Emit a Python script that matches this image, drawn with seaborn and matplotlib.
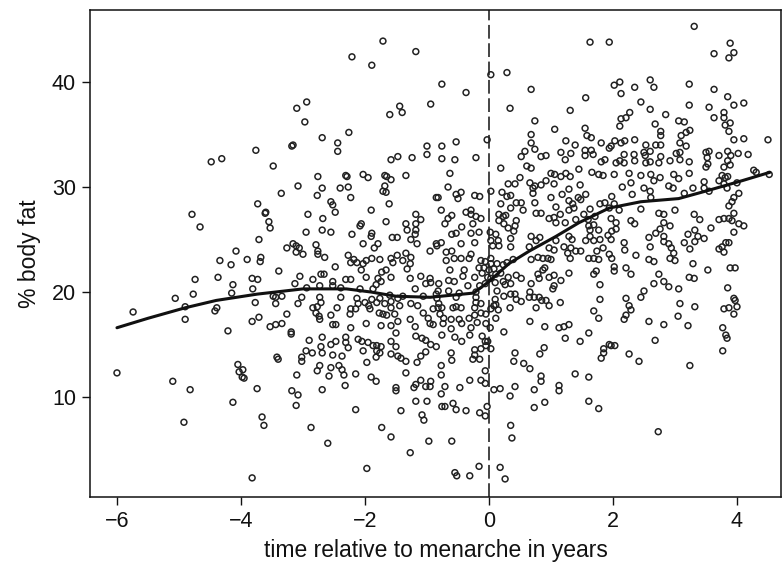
import matplotlib
matplotlib.use("Agg")
import matplotlib.pyplot as plt
import seaborn as sns
import pandas as pd

# time relative to menarche (years)
time_years = [
    -4.48, -4.31, -3.76,
    -1.71, -1.18, -2.21, -1.89, -2.94, -3.10, -2.97, -1.44, -1.40, -1.60, -0.94, -2.26, -2.69, -3.18, -3.16,
    -2.44, -2.44, -1.0, -1.0, -1.58, -1.47, -1.24, -3.48,
    1.63, 1.94, 0.03, 0.29, -0.76, -0.37, 0.68, 1.56, 0.34, 1.31, 0.74, 1.06, 1.55, 0.68, 1.58, 1.65, -0.03,
    -0.76, -0.53, 0.68, 1.24, 1.39, 1.81, 1.55, 1.65, 0.74, 0.58, 0.52, 0.84, 0.92, 1.16, 1.32, 1.23, 1.55,
    1.68, -0.76, -0.55, -0.21, 0.19, 0.61, 0.68, 1.45, 1.81, 1.87, 1.94,
    3.31, 3.89, 3.95, 3.87, 3.63, 2.02, 2.11, 2.35, 2.60, 2.66, 3.23, 2.13, 3.63, 2.45, 2.60, 3.23, 3.55, 3.85,
    3.95, 4.11, 2.85, 3.63, 3.79, 3.79, 2.27, 2.13, 2.21, 2.11, 3.06, 3.15, 2.68, 3.81, 3.89, 3.87, 3.24, 3.18,
    2.77, 2.77, 3.10, 3.95, 4.11, 4.50, 2.03, 2.13, 2.19, 2.35, 2.53, 2.69, 2.77, 3.08, 3.18, 1.97, 2.18, 2.34,
    2.50, 2.60, 2.52, 2.77, 3.02, 3.08, 3.08, 2.92, 3.50, 3.55, 3.52, 3.71, 3.85, 3.90, 4.02, 4.18, 3.85, 2.05,
    2.11, 2.18, 2.35, 2.53, 2.60, 2.74, 3.23, 3.53, 3.50, 3.79, 3.89, 4.27,
    -3.73, -3.61, -4.79, -4.66, -3.71, -4.08, -4.34, -4.16, -3.90, -3.68, -3.69, -4.74, -4.37, -4.13, -3.82,
    -3.73, -3.81, -4.15, -5.06, -4.77, -3.77, -5.74, -4.90, -4.39, -4.42, -4.90, -3.82, -3.71, -4.21,
    -6.0, -5.10, -4.82, -4.92, -4.05, -4.03, -3.97, -3.98, -3.95, -3.74, -4.13, -3.66, -3.63, -3.82,
    -2.76, -2.31, -2.29, -2.03, -1.95, -1.68, -1.65, -1.58, -1.34, -3.08, -2.69, -2.40, -2.27, -3.35, -2.77,
    -2.23, -1.71, -1.68, -1.66, -0.85, -2.55, -2.52, -1.61, -2.48, -3.60, -2.92, -2.68, -1.90, -1.18, -3.55,
    -3.53, -2.06, -2.08, -1.66, -1.34, -1.18, -1.10, -1.32, -1.18, -2.95, -2.69, -2.55, -2.21, -1.89, -1.56,
    -1.48, -1.19, -1.26, -1.90, -0.85, -1.16, -3.16, -3.11, -3.26, -3.06, -2.79, -2.76, -2.03, -1.79, -1.85,
    -3.11, -3.0, -2.76, -2.65, -2.27, -2.18, -2.23, -2.13, -1.98, -1.89, -1.76, -1.58, -1.55, -1.48, -1.34,
    -1.39, -1.26, -1.27, -0.95, -2.48, -2.03, -1.32, -3.39, -2.06, -1.66, -1.73, -3.05, -2.71, -2.66, -2.84,
    -3.13, -2.52, -2.31, -2.23, -1.98, -1.79, -1.74, -1.58, -1.82, -1.27, -1.10, -0.95, -1.02, -0.94, -2.94,
    -2.73, -2.52, -2.39, -2.08, -1.87, -1.19, -3.48, -3.44, -3.34, -3.02, -2.73, -2.39, -2.13, -1.89, -1.76,
    -1.60, -1.47, -1.39, -1.06, -0.85, -3.44, -3.08, -2.71, -2.11, -2.0, -1.81, -1.68, -1.58, -1.26, -2.84,
    -2.77, -2.45, -2.23, -2.15, -1.94, -1.92, -1.58, -1.44, -1.15, -0.90, -2.79, -2.74, -3.26, -2.55, -2.24,
    -1.77, -1.71, -1.65, -1.52, -1.06, -0.98, -2.73, -1.27, -3.34, -3.44, -3.53, -3.19, -2.52, -2.47, -2.23,
    -1.98, -1.74, -1.58, -1.47, -1.19, -0.95, -0.90, -1.50,
    -2.90, -2.69, -3.19, -2.31, -2.31, -2.47, -2.55, -2.27, -2.11, -2.05, -1.95, -1.87, -1.81, -1.74, -1.81,
    -1.76, -1.82, -1.58, -1.50, -1.58, -1.47, -1.42, -1.34, -1.18, -1.08, -1.02, -0.94, -0.85, -1.02, -1.10,
    -1.16, -2.03, -1.97, -2.95, -2.85, -2.71, -2.69, -3.02, -3.02, -3.42, -3.40, -2.52, -2.37, -2.73, -2.77,
    -2.55, -2.42, -2.37, -2.34, -2.58, -2.15, -1.90, -1.82, -3.10, -2.32, -2.69, -3.18, -3.08, -3.11, -1.50,
    -1.50, -1.34, -1.21, -1.18, -1.10, -1.02, -0.94, -0.95, -1.18, -1.0, -2.15, -1.42, -1.08, -1.05, -2.87,
    -1.73, -1.58, -2.60, -0.97, -1.27, -1.97,
    -0.76, -0.55, -0.44, -0.31, -0.11, -0.06, -0.02, -0.05, -0.13, -0.23, -0.23, -0.26, -0.15, 0.03, -0.61,
    -0.60, -0.77, -0.77, -0.71, -0.77, -0.47, -0.31, -0.13, -0.06, -0.06, -0.76, -0.71, -0.58, -0.53, -0.37,
    -0.15, -0.06, -0.03, -0.60, -0.55, -0.52, -0.31, -0.16, 0.08, 0.18, 0.18, 0.26, 0.35, 0.37, 0.34, 0.42,
    0.42, 0.40, 0.56, 0.66, 0.82, 0.89, 0.84, 0.84, 0.73, 0.73, 0.90, 1.13, 1.13, 1.23, 1.39, 1.47, 1.61,
    1.61, 1.77, 1.81, 1.85, 1.85, 1.94,
    1.97, 2.03, 2.26, 2.42, 2.68, 3.24, 3.77, 3.84, 2.73,
    -0.63, 0.03, -0.66, -0.53, -0.45, -0.50, -0.23, -0.15, -0.82, -0.77, 0.21, 0.29, 0.35, 0.31, 0.42, 0.50,
    0.66, 0.74, 0.84, 0.71, 0.71, 0.92, 1.0, 1.06, 1.16, 1.31, 1.24, 1.66, 1.77, 1.84, 1.05, 1.18, 1.29,
    1.47, 1.56, 1.44, 1.48, 1.29, 1.35, 1.37, 1.29, 1.08, 1.0, 0.19, 0.44, 0.52, 0.35, 0.74, 0.76, 0.84,
    0.55, 0.97, 1.05, 1.08, 1.15, 1.23, 1.40, 1.53, 1.63, 1.71, 1.79, 1.87, 1.94, 1.60, 1.61, 1.69, 1.63,
    1.77, 1.63, 1.56, 1.69, 1.79, 1.92, -0.66, -0.60, -0.71, -0.44, -0.37, -0.29, -0.29, -0.21, -0.13, -0.26,
    -0.29, -0.16, -0.60, -0.53, 0.16, 0.23, 0.27, 0.16, 0.24, 0.31, 0.44, 0.42, 0.40, 0.35, 0.02, 0.03,
    0.11, 0.15, 0.06, 0.16, -0.45, -0.23, -0.77, -0.84, -0.69, -0.60, -0.56, -0.69, -0.45, -0.29, -0.32,
    -0.13, -0.06, 0.03, 0.03, 0.13, 0.23, 0.35, 0.39, 0.29, 0.68, 0.76, 0.82, 0.65, 0.68, 0.79, 0.87, 0.95,
    1.0, 0.97, 1.05, 1.08, 1.21, 1.27, 1.32, 1.31, 1.40, 1.48, 1.29, 1.34, 1.61, 1.69, 1.74, 1.84, 1.77,
    1.94, -0.63, -0.40, -0.16, -0.08, 0.0, 0.08, 0.11, 0.19, -0.11, -0.42, -0.23, -0.02, 0.03, 0.10, 0.23,
    0.31, 0.44, 0.52, -0.65, -0.56, -0.34, -0.15, -0.06, 0.26, 0.35, 0.68, 0.79, 0.87, 0.90, 0.81, 0.97,
    1.05, 1.16, 1.03, 1.05, 1.29, 1.69, 1.79, -0.81, -0.82, -0.84, -0.81, -0.82, -0.76, -0.79, -0.73, -0.74,
    -0.61, -0.58, -0.53, -0.45, -0.48, -0.44, -0.61, -0.29, -0.32, -0.23, -0.23, -0.13, -0.05, -0.19, -0.05,
    0.03, 0.11, 0.15, 0.08, 0.10, 0.13, -0.21, -0.21, -0.21, -0.53, -0.48, -0.65, -0.13, 0.24, 0.35, 0.42,
    0.44, 0.52, 0.34, 0.24, 0.11, 0.02, 0.66, 0.65, 0.73, 0.81, 0.85, 0.92, 0.76, 0.97, 1.15, 0.66, 0.90,
    1.13, 1.21, 1.29, 1.61, 1.69, 1.77, 1.79, 1.73,
    2.02, 2.26, 2.45, 2.61, 2.66, 2.76, 2.98, 3.06, 3.23, 2.15, 2.29, 2.50, 2.60, 2.31, 2.61, 2.90, 2.97,
    3.15, 3.29, 3.47, 3.47, 3.55, 3.71, 3.76, 3.81, 3.85, 3.79, 3.84, 4.0, 4.03, 3.95, 3.92, 3.87, 3.95,
    3.87, 3.79, 3.71, 3.92, 4.03, 4.11, 3.95, 4.52, 4.31, 1.98, 2.02, 2.10, 1.97, 2.05, 1.98, 2.05, 1.97,
    2.29, 2.35, 2.45, 2.74, 2.82, 3.0, 2.82, 2.92, 2.69, 2.76, 2.82, 2.58, 2.60, 2.82, 2.90, 2.94, 2.98,
    2.92, 3.0, 2.18, 2.19, 2.37, 1.98, 2.58, 2.66, 2.02, 2.02, 2.21, 2.29, 2.74, 2.66, 2.82, 2.90, 3.06,
    3.31, 3.40, 3.21, 3.32, 3.37, 3.47, 3.32, 3.15, 3.24, 3.58, 3.29, 3.53, 3.23, 3.31, 3.76, 3.82, 3.87,
    3.71, 3.79, 3.89, 3.97, 3.85, 3.95, 3.97, 4.0, 3.79, 3.87, 3.95, 3.77, 3.82, 2.21, 2.45, 2.50, 2.26,
    2.29, 2.21, 2.18, 2.58, 2.82, 3.08, 3.05, 3.32, 3.21,
]

# percent body fat
body_fat = [
    32.4, 32.7, 33.5,
    43.9, 42.9, 42.4, 41.6, 38.1, 37.5, 36.2, 37.7, 37.1, 36.9, 37.9, 35.2, 34.7, 33.9, 34.0,
    34.2, 33.4, 33.9, 33.1, 32.6, 32.9, 32.8, 32.0,
    43.8, 43.8, 40.7, 40.9, 39.8, 39.0, 39.3, 38.5, 37.5, 37.3, 36.3, 35.5, 35.6, 35.0, 34.9, 34.7, 34.5,
    33.9, 34.3, 34.2, 34.4, 34.0, 34.2, 33.5, 33.5, 33.6, 33.4, 32.9, 32.9, 33.0, 33.3, 33.2, 32.6, 33.0,
    33.1, 32.7, 32.6, 32.8, 31.8, 32.0, 31.8, 31.7, 32.4, 32.6, 33.7,
    45.3, 43.7, 42.8, 42.3, 42.7, 39.7, 40.0, 39.5, 40.2, 39.5, 39.8, 38.9, 39.3, 38.1, 37.4, 37.8, 37.6, 38.6,
    37.8, 38.0, 36.9, 36.6, 37.1, 36.6, 37.1, 36.5, 36.6, 35.8, 36.3, 36.2, 36.0, 35.9, 36.1, 35.3, 35.4, 35.2,
    35.3, 34.9, 34.9, 34.5, 34.6, 34.5, 34.4, 34.2, 34.4, 34.5, 34.0, 34.0, 34.0, 34.2, 33.9, 33.9, 33.1, 33.1,
    33.3, 33.4, 33.0, 32.9, 33.2, 33.3, 32.6, 32.5, 33.3, 33.4, 32.8, 33.0, 33.4, 33.0, 33.2, 33.1, 32.5, 32.3,
    32.5, 32.3, 32.5, 32.3, 32.4, 32.3, 32.4, 32.2, 31.9, 31.9, 32.1, 31.6,
    28.4, 27.5, 27.4, 26.2, 25.0, 23.9, 23.0, 22.6, 23.1, 23.3, 22.9, 21.2, 21.4, 20.7, 21.3,
    21.2, 20.3, 19.9, 19.4, 19.8, 19.0, 18.1, 18.6, 18.5, 18.2, 17.4, 17.2, 17.6, 16.3,
    12.3, 11.5, 10.7, 7.6, 13.1, 12.4, 12.6, 11.9, 11.8, 10.8, 9.5, 8.1, 7.3, 2.3,
    31.0, 31.1, 31.0, 31.2, 30.9, 31.1, 31.0, 30.7, 31.1, 30.1, 29.9, 29.9, 30.0, 29.4, 29.2,
    29.0, 29.6, 30.1, 29.5, 29.0, 28.6, 28.3, 28.4, 27.6, 27.6, 27.4, 27.0, 27.8, 27.4, 26.7,
    26.1, 26.5, 26.3, 26.7, 26.5, 26.5, 26.9, 25.9, 25.9, 25.7, 25.9, 25.7, 25.5, 25.6, 25.2,
    25.2, 25.5, 25.0, 25.3, 24.6, 24.6, 24.6, 24.4, 24.2, 24.2, 24.5, 23.9, 24.6, 24.6, 24.2,
    23.8, 23.6, 23.6, 23.3, 23.5, 23.1, 22.8, 22.8, 23.0, 23.2, 23.1, 23.2, 22.8, 23.5, 23.7,
    23.0, 23.3, 22.7, 23.9, 22.4, 22.7, 22.2, 22.0, 22.1, 22.1, 21.9, 21.5, 21.7, 21.7, 21.2,
    20.8, 21.0, 21.2, 21.2, 21.4, 21.3, 21.0, 21.4, 20.7, 21.3, 21.5, 21.3, 20.8, 20.9, 20.4,
    20.6, 20.6, 20.4, 20.3, 20.3, 20.3, 19.6, 19.5, 19.6, 19.5, 19.5, 19.5, 19.4, 19.3, 19.4,
    19.7, 19.4, 19.6, 19.6, 19.8, 18.9, 18.9, 19.0, 18.9, 19.0, 19.0, 18.9, 19.1, 18.9, 18.5,
    18.6, 18.5, 18.4, 18.4, 18.7, 18.4, 18.5, 18.7, 18.7, 18.4, 18.0, 17.7, 17.9, 17.8, 17.9,
    18.0, 17.9, 17.8, 17.9, 18.0, 17.5, 17.4, 17.4, 17.0, 16.9, 16.7, 16.2, 16.9, 16.9, 16.6,
    17.0, 16.8, 16.8, 17.2, 16.7, 17.0, 16.9, 16.1,
    15.4, 15.7, 16.0, 15.7, 15.2, 15.3, 15.0, 14.7, 15.5, 15.3, 15.2, 14.9, 14.9, 14.8, 14.4,
    14.2, 13.8, 15.3, 14.8, 14.1, 13.9, 13.7, 13.4, 15.8, 15.6, 15.4, 15.0, 14.8, 14.3, 13.9,
    13.3, 14.4, 13.3, 14.4, 14.2, 14.8, 14.2, 13.8, 13.4, 13.8, 13.6, 14.0, 13.9, 13.0, 12.5,
    12.8, 13.0, 12.6, 12.1, 12.0, 12.2, 11.9, 11.5, 12.1, 11.1, 10.7, 10.6, 10.2, 9.2, 10.9,
    10.6, 12.3, 10.9, 11.2, 11.6, 11.0, 11.5, 11.0, 9.6, 9.6, 8.8, 8.7, 8.3, 7.8, 7.1,
    7.1, 6.2, 5.6, 5.8, 4.7, 3.2,
    15.9, 15.7, 15.3, 15.9, 15.8, 15.3, 15.3, 14.9, 14.6, 14.5, 14.0, 13.6, 13.6, 14.6, 14.2,
    13.5, 13.0, 12.1, 11.0, 10.3, 10.9, 11.6, 11.6, 12.5, 11.3, 9.1, 9.1, 9.4, 8.8, 8.7,
    8.5, 8.2, 9.1, 5.8, 2.8, 2.5, 2.5, 3.4, 10.7, 10.8, 3.3, 2.2, 7.3, 6.1, 10.1, 11.0,
    14.2, 13.4, 13.2, 12.7, 14.1, 14.7, 12.0, 11.5, 10.7, 9.0, 9.5, 11.1, 10.6, 15.6, 12.2, 15.3, 11.9,
    9.6, 8.9, 13.7, 14.6, 14.2, 15.0,
    14.9, 14.9, 14.1, 13.4, 15.4, 13.0, 14.4, 15.6, 6.7,
    31.3, 29.6, 30.0, 29.3, 29.5, 28.9, 29.2, 29.1, 29.0, 27.8, 29.5, 29.1, 29.2, 30.3, 30.3, 30.9,
    30.4, 30.1, 30.2, 29.9, 29.4, 30.6, 31.3, 31.2, 31.0, 31.0, 31.3, 31.4, 31.2, 31.1, 30.3, 29.3, 29.8,
    30.2, 29.3, 29.0, 28.8, 28.7, 28.4, 28.0, 27.8, 28.1, 29.0, 28.4, 28.5, 28.5, 28.0, 28.5, 27.5, 27.5,
    27.8, 27.0, 27.1, 26.6, 27.4, 26.6, 26.9, 27.4, 27.9, 27.2, 28.4, 28.5, 28.0, 26.9, 26.3, 26.4, 25.9,
    25.9, 25.3, 24.9, 24.9, 25.0, 25.4, 27.0, 27.3, 26.5, 26.2, 27.6, 27.8, 27.4, 27.2, 27.0, 26.5,
    25.6, 25.7, 25.5, 25.6, 27.4, 27.2, 27.3, 26.8, 26.5, 26.1, 26.8, 26.3, 25.8, 25.1, 25.7, 24.9,
    25.5, 24.9, 24.4, 24.4, 24.6, 24.7, 24.7, 24.4, 23.8, 23.9, 23.2, 23.0, 23.2, 23.6, 23.2,
    23.0, 22.9, 23.2, 22.7, 22.7, 22.6, 24.3, 23.1, 22.8, 25.3, 24.9, 25.2, 24.3, 23.1, 23.3, 23.2, 23.2,
    23.1, 24.2, 24.0, 24.9, 24.3, 23.7, 24.2, 23.2, 23.9, 23.9, 25.3, 25.0, 23.2, 23.2, 23.9, 24.2, 23.1,
    23.6, 22.1, 22.1, 22.3, 22.3, 22.1, 22.2, 21.7, 21.8, 21.8, 21.5, 21.4, 21.4, 21.3, 20.9, 21.0,
    21.4, 21.6, 21.3, 21.1, 21.0, 20.6, 20.6, 20.8, 20.7, 20.8, 20.8, 21.7, 22.1, 22.3, 21.3, 21.4,
    21.6, 21.1, 20.3, 20.6, 21.8, 21.7, 20.7, 20.8, 20.1, 19.4, 18.9, 18.5, 18.5, 17.9, 17.5, 17.0,
    17.4, 18.5, 18.6, 18.5, 17.4, 17.0, 16.5, 16.6, 17.5, 18.5, 17.8, 18.0, 17.9, 17.1, 17.0,
    18.4, 18.8, 18.3, 18.7, 19.3, 20.1, 20.0, 19.5, 19.0, 19.5, 19.9, 20.1, 18.9, 19.6, 19.8, 19.8,
    19.3, 19.1, 18.5, 16.2, 17.5, 16.6, 20.0, 19.5, 19.5, 19.5, 19.2, 19.2, 18.5, 18.7, 19.0, 17.2, 16.7,
    16.6, 16.7, 16.9, 16.1, 18.2, 17.5, 19.3, 22.0,
    31.2, 31.3, 31.1, 31.2, 30.6, 30.9, 31.2, 30.8, 31.3, 30.0, 30.4, 29.9, 29.6, 29.3, 29.0, 30.1, 29.9,
    29.4, 29.9, 30.5, 29.9, 29.6, 30.6, 31.1, 30.9, 31.0, 30.3, 29.9, 30.4, 29.4, 29.0, 28.6, 28.2, 27.5,
    27.0, 27.0, 26.9, 26.8, 26.5, 26.3, 25.7, 31.2, 31.4, 29.1, 28.4, 27.8, 27.0, 26.6, 25.8, 26.0, 25.0,
    26.8, 26.5, 27.9, 27.5, 27.4, 27.8, 26.6, 26.3, 25.6, 26.0, 25.3, 25.2, 24.3, 24.8, 24.6, 24.2, 23.7,
    23.2, 23.0, 24.7, 24.0, 23.5, 23.2, 23.1, 22.9, 22.4, 22.0, 22.3, 21.7, 21.7, 20.8, 21.0, 20.5, 20.3,
    27.4, 26.9, 25.5, 25.9, 25.3, 25.1, 24.8, 24.7, 24.1, 26.1, 22.7, 22.1, 21.4, 21.3, 24.3, 24.7, 24.7,
    24.1, 23.8, 22.3, 22.3, 20.4, 19.4, 19.2, 18.6, 18.4, 18.5, 17.9, 16.6, 15.9, 19.4, 19.5, 20.1, 18.7,
    18.3, 17.8, 17.4, 17.2, 16.9, 18.9, 17.7, 18.6, 16.8,
]

# smoothed (loess-type) curve
curve_x = [-6.0, -5.5, -4.9, -4.4, -3.74, -3.0, -2.3, -1.9, -1.5, -0.95, -0.6, -0.25, 0.0,
           0.32, 0.65, 1.08, 1.45, 1.94, 2.45, 3.06, 3.55, 4.08, 4.53]
curve_y = [16.6, 17.5, 18.5, 19.2, 19.8, 20.3, 20.3, 20.0, 19.6, 19.5, 19.7, 19.9, 21.0,
           22.7, 23.9, 25.3, 26.6, 28.0, 28.6, 28.9, 29.7, 30.6, 31.4]

xticks = [-6, -4, -2, 0, 2, 4]
yticks = [10, 20, 30, 40]

sns.set_theme(style="white")
plt.rcParams['font.family'] = ['Liberation Sans', 'DejaVu Sans']

pts = pd.DataFrame({"time": time_years, "fat": body_fat})
curve = pd.DataFrame({"time": curve_x, "fat": curve_y})

fig = plt.figure(figsize=(7.83, 5.69), dpi=100)
ax = fig.add_axes([90 / 783, 1 - 497 / 569, 691 / 783, 487 / 569])

sns.scatterplot(data=pts, x="time", y="fat", ax=ax, marker="o", s=18,
                facecolor="none", edgecolor="#222222", linewidth=1.1, zorder=2)
sns.lineplot(data=curve, x="time", y="fat", ax=ax, color="#111111", linewidth=2.2,
             sort=False, estimator=None, zorder=3)
ax.axvline(0, color="#111111", linewidth=1.1, linestyle=(0, (9, 3)), zorder=1)

ax.set_xlim(-6.435, 4.71)
ax.set_ylim(0.48, 46.86)
ax.set_xticks(xticks)
ax.set_yticks(yticks)
ax.set_xticklabels([str(t).replace('-', '\u2212') for t in xticks])
ax.tick_params(axis="both", which="both", direction="out", length=6, width=1,
               colors="#111111", labelsize=15.5, bottom=True, left=True, top=False, right=False,
               pad=4)
ax.set_xlabel("time relative to menarche in years", fontsize=16.5, color="#111111", labelpad=5)
ax.set_ylabel("% body fat", fontsize=16.5, color="#111111", labelpad=8)
for sp in ax.spines.values():
    sp.set_color("#111111")
    sp.set_linewidth(1.1)

fig.savefig("out.png", dpi=100)
